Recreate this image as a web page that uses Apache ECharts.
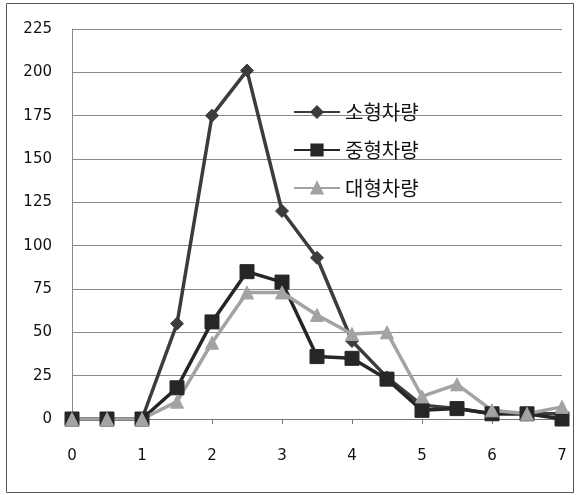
<!DOCTYPE html>
<html>
<head>
<meta charset="utf-8">
<script src="https://cdn.jsdelivr.net/npm/echarts@6/dist/echarts.min.js"></script>
<style>
  html, body { margin: 0; padding: 0; background: #fff; }
  #chart { width: 577px; height: 495px; }
</style>
</head>
<body>
<div id="chart"></div>
<script>
// x positions (0 ~ 7, step 0.5)
const xValues = [0, 0.5, 1, 1.5, 2, 2.5, 3, 3.5, 4, 4.5, 5, 5.5, 6, 6.5, 7];
const seriesNames = ['소형차량', '중형차량', '대형차량'];
const smallCar = [0, 0, 0, 55, 175, 201, 120, 93, 45, 24, 8, 6, 3, 3, 3];
const midCar   = [0, 0, 0, 18, 56, 85, 79, 36, 35, 23, 5, 6, 3, 3, 0];
const largeCar = [0, 0, 0, 10, 44, 73, 73, 60, 49, 50, 13, 20, 5, 3, 7];

const pair = arr => arr.map((v, i) => [xValues[i], v]);

const chart = echarts.init(document.getElementById('chart'));

const mkSeries = (name, data, symbol, size, color) => ({
    name: name,
    type: 'line',
    data: pair(data),
    symbol: symbol,
    symbolSize: size,
    showAllSymbol: true,
    lineStyle: { color: color, width: 3.5 },
    itemStyle: { color: color, borderColor: color, borderWidth: 1 },
    emphasis: { disabled: true },
    animation: false
});

chart.setOption({
    animation: false,
    textStyle: { fontFamily: 'DejaVu Sans' },
    graphic: [{
        type: 'rect',
        shape: { x: 6.5, y: 3.5, width: 567, height: 489 },
        style: { fill: 'none', stroke: '#555', lineWidth: 1 },
        z: -1
    }],
    grid: { left: 72, right: 15, top: 29, bottom: 76 },
    legend: {
        orient: 'vertical',
        left: 288,
        top: 97,
        itemWidth: 46,
        itemHeight: 14,
        itemGap: 18,
        data: seriesNames,
        textStyle: { fontSize: 20, color: '#111', fontFamily: 'Noto Sans CJK KR' }
    },
    xAxis: {
        type: 'value',
        min: 0,
        max: 7,
        interval: 1,
        axisLine: { show: true, lineStyle: { color: '#777', width: 1 } },
        axisTick: { show: true, length: 5, lineStyle: { color: '#777' } },
        splitLine: { show: false },
        axisLabel: { fontSize: 15, color: '#111', margin: 30 }
    },
    yAxis: {
        type: 'value',
        min: 0,
        max: 225,
        interval: 25,
        axisLine: { show: true, lineStyle: { color: '#888', width: 1 } },
        axisTick: { show: false },
        splitLine: { show: true, lineStyle: { color: '#888', width: 1 } },
        axisLabel: { fontSize: 15, color: '#111', margin: 20 }
    },
    series: [
        mkSeries(seriesNames[0], smallCar, 'diamond', 13, '#3c3c3c'),
        mkSeries(seriesNames[1], midCar, 'rect', 14, '#262626'),
        mkSeries(seriesNames[2], largeCar, 'triangle', 13, '#a3a3a3')
    ]
});
</script>
</body>
</html>
